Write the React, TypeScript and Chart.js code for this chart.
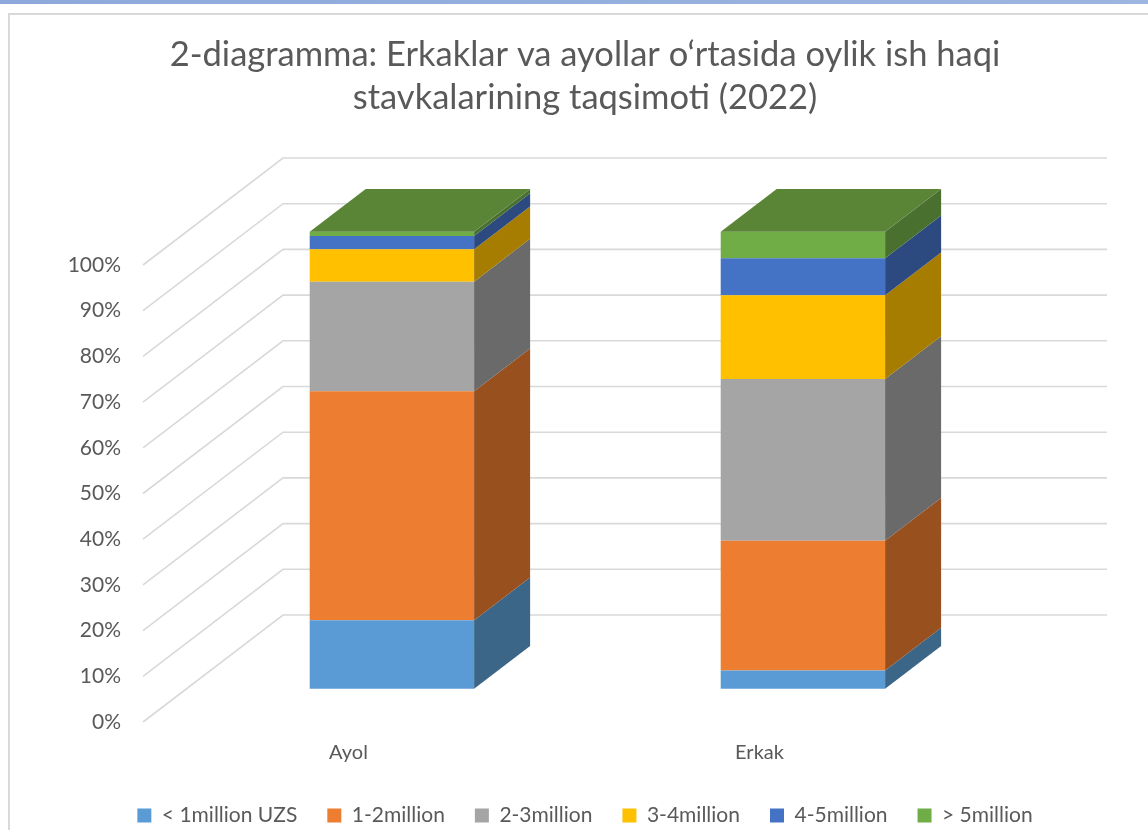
import React, { useEffect, useRef } from 'react';
import { Chart, registerables } from 'chart.js';

Chart.register(...registerables);

// ---------- data ----------
const categories = ['Ayol', 'Erkak'];
const seriesNames = ['< 1million UZS', '1-2million', '2-3million', '3-4million', '4-5million', '> 5million'];
const under1m = [15.0, 4.0];
const from1to2m = [50.1, 28.4];
const from2to3m = [24.0, 35.4];
const from3to4m = [7.1, 18.3];
const from4to5m = [2.9, 8.1];
const over5m = [0.9, 5.8];
const yTickValues = [0, 10, 20, 30, 40, 50, 60, 70, 80, 90, 100];
const titleLines = [
  '2-diagramma: Erkaklar va ayollar o\u2018rtasida oylik ish haqi',
  'stavkalarining taqsimoti (2022)',
];

// ---------- styles ----------
const frontColors = ['#5B9BD5', '#ED7D31', '#A5A5A5', '#FFC000', '#4472C4', '#70AD47'];
const sideColors = ['#3B6688', '#98501F', '#6A6A6A', '#A67D00', '#2C4A80', '#4A7030'];
const topColor = '#5A8537';
const TEXT = '#595959';
const GRID = '#D9D9D9';
const FONT = 'Lato';
const DEPTH_X = 140;
const DEPTH_Y = -107;
const BAR_FRONT = 0.31;
const BAR_BACK = 0.71;

const box3d = {
  id: 'box3d',
  beforeDatasetsDraw(chart: any) {
    const { ctx, chartArea, scales } = chart;
    const y = scales.y;
    ctx.save();
    ctx.strokeStyle = GRID;
    ctx.lineWidth = 1.6;
    y.ticks.forEach((t: any) => {
      const py = y.getPixelForValue(t.value);
      ctx.beginPath();
      ctx.moveTo(chartArea.left, py);
      ctx.lineTo(chartArea.left + DEPTH_X, py + DEPTH_Y);
      ctx.lineTo(chartArea.right + DEPTH_X + 2, py + DEPTH_Y);
      ctx.stroke();
    });
    ctx.restore();
    ctx.save();
    ctx.translate(DEPTH_X * BAR_FRONT, DEPTH_Y * BAR_FRONT);
  },
  afterDatasetsDraw(chart: any) {
    const { ctx } = chart;
    ctx.restore();
    const fx = DEPTH_X * BAR_FRONT;
    const fy = DEPTH_Y * BAR_FRONT;
    const bx = DEPTH_X * BAR_BACK;
    const by = DEPTH_Y * BAR_BACK;
    const n = chart.data.datasets.length;
    ctx.save();
    for (let i = 0; i < n; i++) {
      const meta = chart.getDatasetMeta(i);
      meta.data.forEach((bar: any) => {
        const { x, y, base, width } = bar.getProps(['x', 'y', 'base', 'width'], true);
        const xr = x + width / 2;
        ctx.fillStyle = sideColors[i];
        ctx.beginPath();
        ctx.moveTo(xr + fx, base + fy);
        ctx.lineTo(xr + fx, y + fy);
        ctx.lineTo(xr + bx, y + by);
        ctx.lineTo(xr + bx, base + by);
        ctx.closePath();
        ctx.fill();
      });
    }
    const topMeta = chart.getDatasetMeta(n - 1);
    topMeta.data.forEach((bar: any) => {
      const { x, y, width } = bar.getProps(['x', 'y', 'width'], true);
      const xl = x - width / 2;
      const xr = x + width / 2;
      ctx.fillStyle = topColor;
      ctx.beginPath();
      ctx.moveTo(xl + fx, y + fy);
      ctx.lineTo(xr + fx, y + fy);
      ctx.lineTo(xr + bx, y + by);
      ctx.lineTo(xl + bx, y + by);
      ctx.closePath();
      ctx.fill();
    });
    ctx.restore();
  },
};

export default function App() {
  const ref = useRef<HTMLCanvasElement | null>(null);

  useEffect(() => {
    if (!ref.current) return;
    const series = [under1m, from1to2m, from2to3m, from3to4m, from4to5m, over5m];
    const chart = new Chart(ref.current, {
      type: 'bar',
      data: {
        labels: categories,
        datasets: series.map((values, i) => ({
          label: seriesNames[i],
          data: values,
          backgroundColor: frontColors[i],
          borderWidth: 0,
          categoryPercentage: 1,
          barPercentage: 0.4,
          clip: false as any,
        })),
      },
      options: {
        responsive: false,
        animation: false,
        devicePixelRatio: 1,
        layout: { padding: { left: 22, right: 0, top: 0, bottom: 0 } },
        plugins: {
          title: {
            display: true,
            text: titleLines,
            color: TEXT,
            font: { family: FONT, size: 34.5, weight: 'normal', lineHeight: 43 / 34.5 },
            padding: { top: 33, bottom: 146 },
          },
          legend: {
            position: 'bottom',
            labels: {
              color: TEXT,
              font: { family: FONT, size: 21 },
              boxWidth: 14,
              boxHeight: 14,
              padding: 30,
            },
          },
          tooltip: { enabled: false },
        },
        scales: {
          x: {
            stacked: true,
            grid: { display: false, drawTicks: false },
            border: { display: false },
            ticks: { color: TEXT, font: { family: FONT, size: 20 }, padding: 19 },
            afterFit: (s: any) => { s.height = 53; },
          },
          y: {
            stacked: true,
            min: 0,
            max: 100,
            grid: { display: false, drawTicks: false },
            border: { display: false },
            afterBuildTicks: (s: any) => { s.ticks = yTickValues.map((v) => ({ value: v })); },
            ticks: {
              color: TEXT,
              font: { family: FONT, size: 21 },
              padding: 22,
              callback: (v: any) => v + '%',
            },
            afterFit: (s: any) => { s.width = 121; },
          },
          spacer: {
            type: 'linear',
            position: 'right',
            display: true,
            grid: { display: false, drawTicks: false },
            border: { display: false },
            ticks: { display: false },
            afterFit: (s: any) => { s.width = 183; },
          },
        },
      },
      plugins: [box3d],
    });
    return () => chart.destroy();
  }, []);

  return (
    <div style={{ position: 'fixed', left: 0, top: 0, width: 1148, height: 830, overflow: 'hidden', background: '#fff' }}>
      <div style={{ position: 'absolute', left: 0, top: 0, width: 1148, height: 4, background: 'linear-gradient(90deg, #8DA9DB, #9DB5E0)' }} />
      <div style={{ position: 'absolute', left: 8, top: 13, width: 1200, height: 900, borderLeft: '2px solid #D9D9D9', borderTop: '2px solid #D9D9D9' }} />
      <canvas ref={ref} width={1148} height={836} style={{ position: 'absolute', left: 0, top: 0, display: 'block' }} />
    </div>
  );
}
